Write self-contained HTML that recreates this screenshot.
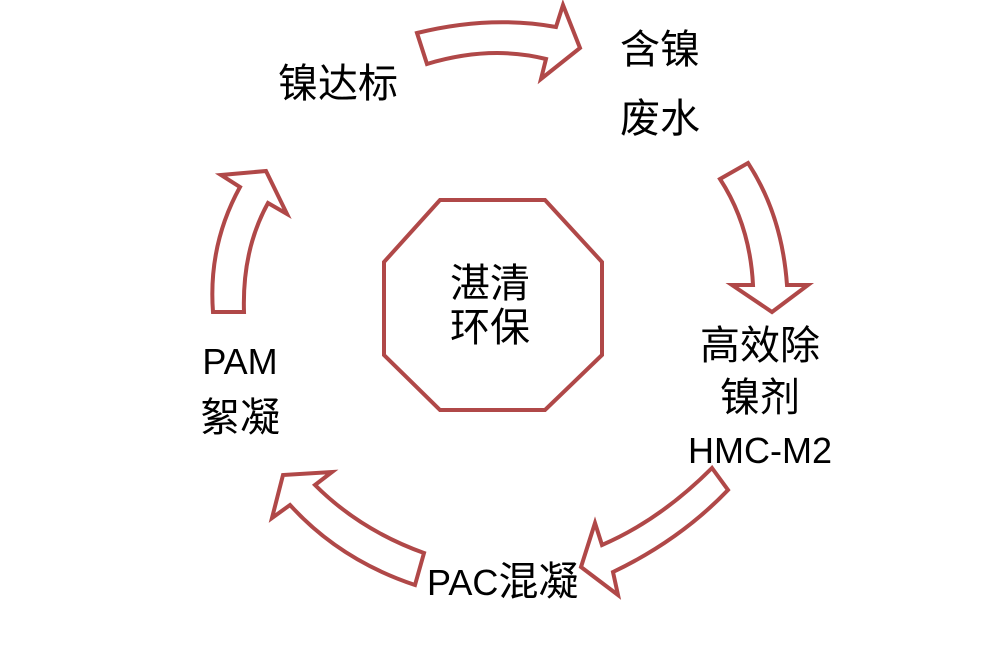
<!DOCTYPE html>
<html><head><meta charset="utf-8"><style>
html,body{margin:0;padding:0;background:#fff;width:1000px;height:667px;overflow:hidden}
svg{position:absolute;left:0;top:0}
.t{position:absolute;font-family:"Liberation Sans","Noto Sans CJK SC",sans-serif;color:#000;font-size:40px;line-height:52px;text-align:center;white-space:nowrap}
.l{font-size:36px}
</style></head><body>
<svg width="1000" height="667" viewBox="0 0 1000 667">
<g fill="#fff" stroke="#b04848" stroke-width="4" stroke-linejoin="miter">
<path d="M417,33 Q490,15 556,27 L563,5 L580,48 L541,79 L546,59 Q490,45 427,64 Z"/>
<path d="M720,179 L748,163 Q782,215 787,285 L808,285 L772,312 L732,285 L753,285 Q750,225 720,179 Z"/>
<path d="M712,468 L728,490 Q680,540 613,572 L618,595 L581,567 L595,523 L602,545 Q660,520 712,468 Z"/>
<path d="M424,553 L415,585 Q340,560 290,505 L272,518 L283,475 L332,472 L315,485 Q360,530 424,553 Z"/>
<path d="M213,312 Q208,245 240,187 L221,175 L266,171 L287,214 L268,203 Q242,250 244,312 Z"/>
<path d="M440,200 L545,200 L602,262 L602,355 L545,410 L440,410 L384,355 L384,262 Z"/>
</g>
</svg>
<div class="t" style="left:278px;top:58px">镍达标</div>
<div class="t" style="left:620px;top:24px">含镍</div>
<div class="t" style="left:620px;top:93px">废水</div>
<div class="t" style="left:428px;top:262px;width:124px;font-size:40px;line-height:44px">湛清<br>环保</div>
<div class="t" style="left:680px;top:320px;width:160px;line-height:52px">高效除<br>镍剂<br><span class="l">HMC-M2</span></div>
<div class="t" style="left:180px;top:333px;width:120px;line-height:56px"><span class="l">PAM</span><br>絮凝</div>
<div class="t" style="left:427px;top:556px"><span class="l">PAC</span>混凝</div>
</body></html>
